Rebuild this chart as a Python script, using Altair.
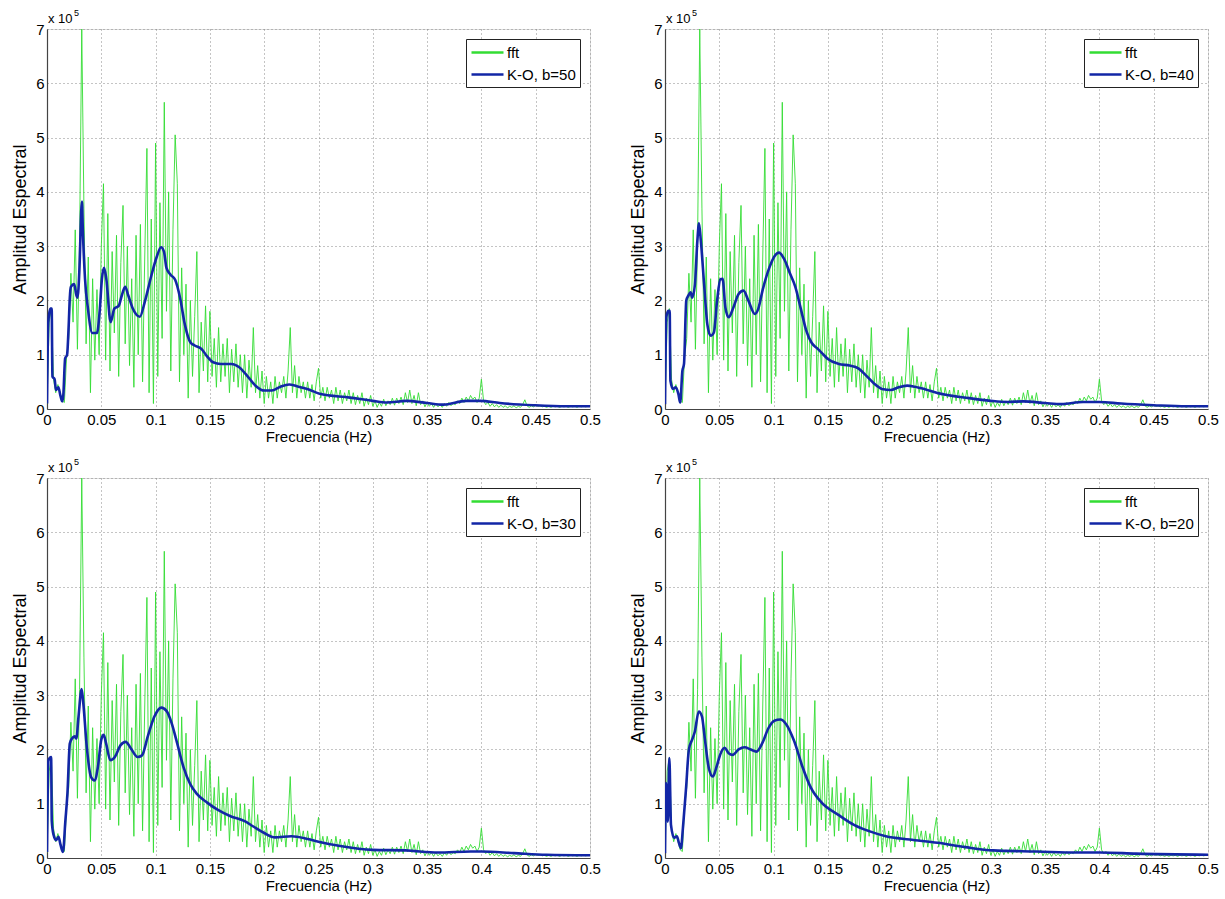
import altair as alt
import pandas as pd

# ---------------- data (amplitudes in units of 1e5) ----------------
FFT_STEP = 0.002
fft_amp = [
    0.1, 1.6, 1.85, 0.55, 0.3, 0.45, 0.3, 0.15, 0.12, 0.95,
    1.3, 2.5, 1.6, 3.3, 1.1, 3.1, 7.0, 3.7, 1.2, 2.8,
    0.3, 2.4, 0.9, 2.2, 1.0, 3.0, 4.15, 0.9, 3.6, 0.7,
    2.9, 1.4, 3.2, 0.6, 2.7, 3.75, 1.2, 3.0, 0.8, 2.4,
    0.4, 3.2, 1.0, 3.4, 0.5, 2.8, 4.8, 0.3, 3.5, 0.1,
    4.9, 0.6, 3.8, 1.3, 5.65, 1.8, 4.0, 0.7, 3.3, 5.05,
    4.15, 0.5, 2.6, 1.0, 2.3, 0.2, 2.0, 0.6, 1.7, 2.9,
    0.3, 1.6, 0.7, 1.9, 0.5, 1.8, 0.6, 1.3, 0.4, 1.5,
    0.5, 1.2, 0.6, 1.3, 0.3, 1.1, 0.5, 1.2, 0.4, 1.0,
    0.3, 1.0, 0.2, 0.9, 0.4, 1.5, 0.3, 0.8, 0.2, 0.7,
    0.1, 0.6, 0.2, 0.5, 0.1, 0.6, 0.2, 0.5, 0.3, 0.6,
    0.2, 0.7, 1.5, 0.3, 0.8, 0.2, 0.6, 0.3, 0.5, 0.2,
    0.5, 0.2, 0.45, 0.15, 0.5, 0.75, 0.2, 0.4, 0.15, 0.4,
    0.2, 0.35, 0.1, 0.4, 0.15, 0.35, 0.1, 0.3, 0.15, 0.35,
    0.1, 0.3, 0.08, 0.25, 0.1, 0.3, 0.05, 0.2, 0.08, 0.25,
    0.05, 0.15, 0.03, 0.12, 0.05, 0.18, 0.06, 0.15, 0.08, 0.2,
    0.07, 0.2, 0.1, 0.22, 0.08, 0.3, 0.12, 0.35, 0.1, 0.25,
    0.06, 0.3, 0.08, 0.15, 0.04, 0.12, 0.05, 0.1, 0.03, 0.1,
    0.04, 0.08, 0.03, 0.1, 0.05, 0.12, 0.06, 0.1, 0.08, 0.15,
    0.1, 0.2, 0.12, 0.22, 0.15, 0.25, 0.18, 0.22, 0.12, 0.2,
    0.55, 0.15, 0.08, 0.12, 0.05, 0.1, 0.04, 0.08, 0.03, 0.07,
    0.03, 0.06, 0.02, 0.05, 0.03, 0.06, 0.02, 0.05, 0.03, 0.08,
    0.17, 0.06, 0.03, 0.06, 0.04, 0.07, 0.05, 0.06, 0.04, 0.05,
    0.03, 0.05, 0.03, 0.05, 0.04, 0.05, 0.03, 0.05, 0.04, 0.05,
    0.03, 0.05, 0.04, 0.05, 0.03, 0.05, 0.04, 0.05, 0.04, 0.05,
    0.05,
]
fft_freq = [round(i * FFT_STEP, 4) for i in range(len(fft_amp))]

ko50_f = [0.0, 0.0012, 0.003, 0.0043, 0.005, 0.007, 0.0083, 0.0105, 0.0123, 0.014,
          0.015, 0.0167, 0.0185, 0.02, 0.021, 0.022, 0.025, 0.027, 0.028, 0.03,
          0.0315, 0.0322, 0.033, 0.035, 0.0377, 0.0417, 0.046, 0.0485, 0.0506, 0.0525,
          0.0546, 0.0586, 0.062, 0.066, 0.069, 0.072, 0.0747, 0.079, 0.0855, 0.09,
          0.096, 0.101, 0.105, 0.1077, 0.11, 0.114, 0.118, 0.1225, 0.127, 0.132,
          0.136, 0.1426, 0.147, 0.153, 0.16, 0.17, 0.177, 0.184, 0.192, 0.2,
          0.207, 0.215, 0.223, 0.23, 0.241, 0.251, 0.279, 0.3, 0.313, 0.331,
          0.35, 0.365, 0.386, 0.399, 0.417, 0.448, 0.478, 0.5]
ko50_a = [0.1, 1.6, 1.85, 1.85, 0.6, 0.55, 0.35, 0.4, 0.25, 0.14,
          0.25, 0.93, 1.0, 1.55, 2.05, 2.25, 2.3, 2.1, 2.05, 2.65,
          3.65, 3.82, 3.3, 2.4, 1.85, 1.4, 1.4, 1.8, 2.4, 2.6,
          2.4, 1.6, 1.85, 1.9, 2.1, 2.25, 2.1, 1.85, 1.7, 1.97,
          2.45, 2.8, 2.98, 2.9, 2.6, 2.47, 2.38, 2.05, 1.55, 1.23,
          1.17, 1.1, 0.98, 0.86, 0.83, 0.83, 0.77, 0.62, 0.43, 0.34,
          0.34, 0.41, 0.45, 0.42, 0.36, 0.28, 0.21, 0.15, 0.12, 0.15,
          0.11, 0.08, 0.15, 0.15, 0.11, 0.07, 0.05, 0.05]

ko40_f = [0.0, 0.0012, 0.003, 0.0043, 0.005, 0.0074, 0.0098, 0.0123, 0.014, 0.016,
          0.0175, 0.0196, 0.0215, 0.0236, 0.025, 0.0276, 0.0298, 0.0313, 0.033, 0.036,
          0.039, 0.042, 0.045, 0.048, 0.051, 0.053, 0.0556, 0.0586, 0.063, 0.0678,
          0.0723, 0.0767, 0.0828, 0.0858, 0.09, 0.096, 0.101, 0.105, 0.11, 0.115,
          0.12, 0.125, 0.13, 0.135, 0.14, 0.145, 0.15, 0.16, 0.17, 0.178,
          0.185, 0.192, 0.2, 0.208, 0.215, 0.223, 0.23, 0.24, 0.25, 0.28,
          0.3, 0.315, 0.33, 0.35, 0.365, 0.385, 0.4, 0.42, 0.45, 0.48, 0.5]
ko40_a = [0.09, 1.69, 1.81, 1.81, 0.52, 0.37, 0.4, 0.28, 0.12, 0.7,
          0.83, 2.0, 2.09, 2.15, 2.05, 2.3, 3.1, 3.42, 3.1, 2.3,
          1.56, 1.35, 1.41, 2.0, 2.39, 2.4, 1.87, 1.69, 1.87, 2.12,
          2.18, 2.0, 1.75, 1.84, 2.2, 2.6, 2.82, 2.88, 2.75, 2.5,
          2.25, 1.85, 1.45, 1.22, 1.12, 1.02, 0.92, 0.83, 0.8, 0.75,
          0.62, 0.48, 0.37, 0.35, 0.4, 0.43, 0.41, 0.36, 0.3, 0.2,
          0.15, 0.13, 0.14, 0.11, 0.09, 0.13, 0.13, 0.1, 0.07, 0.05, 0.05]

ko30_f = [0.0, 0.0013, 0.0038, 0.0044, 0.006, 0.0084, 0.0106, 0.0125, 0.0147, 0.0169,
          0.0188, 0.021, 0.023, 0.0256, 0.027, 0.029, 0.0319, 0.0334, 0.0366, 0.0406,
          0.0438, 0.0469, 0.05, 0.0522, 0.0544, 0.0584, 0.0625, 0.0678, 0.0725, 0.0772,
          0.0834, 0.0875, 0.0928, 0.099, 0.1053, 0.11, 0.1147, 0.119, 0.1256, 0.1319,
          0.138, 0.1475, 0.157, 0.169, 0.182, 0.19, 0.2, 0.21, 0.225, 0.24,
          0.25, 0.27, 0.3, 0.33, 0.36, 0.39, 0.4, 0.43, 0.46, 0.5]
ko30_a = [0.11, 1.8, 1.86, 0.68, 0.43, 0.33, 0.39, 0.24, 0.11, 0.68,
          1.18, 2.11, 2.2, 2.24, 2.2, 2.6, 3.11, 2.86, 2.05, 1.49,
          1.43, 1.68, 2.18, 2.27, 2.11, 1.8, 1.86, 2.08, 2.14, 2.02,
          1.86, 1.89, 2.24, 2.61, 2.77, 2.71, 2.49, 2.18, 1.68, 1.36,
          1.18, 1.02, 0.89, 0.77, 0.68, 0.58, 0.46, 0.38, 0.4, 0.35,
          0.3, 0.22, 0.15, 0.14, 0.1, 0.12, 0.12, 0.09, 0.06, 0.05]

ko20_f = [0.0, 0.001, 0.0026, 0.004, 0.0055, 0.0084, 0.011, 0.0128, 0.0147, 0.0165,
          0.0194, 0.022, 0.025, 0.0275, 0.0311, 0.034, 0.0366, 0.0403, 0.044, 0.0476,
          0.0513, 0.055, 0.0586, 0.0623, 0.0678, 0.0733, 0.0788, 0.0842, 0.0897, 0.0952,
          0.1007, 0.1062, 0.1117, 0.119, 0.1264, 0.1337, 0.1447, 0.1593, 0.174, 0.1886,
          0.2033, 0.2253, 0.2509, 0.2766, 0.3022, 0.3425, 0.379, 0.401, 0.434, 0.5]
ko20_a = [0.09, 1.38, 0.67, 1.84, 0.61, 0.37, 0.4, 0.28, 0.18, 0.55,
          1.29, 2.0, 2.18, 2.33, 2.7, 2.61, 2.21, 1.66, 1.5, 1.69,
          1.93, 2.03, 1.93, 1.9, 2.0, 2.04, 2.0, 1.96, 2.12, 2.39,
          2.53, 2.55, 2.46, 2.15, 1.69, 1.32, 1.01, 0.8, 0.61, 0.49,
          0.4, 0.34, 0.28, 0.2, 0.14, 0.12, 0.1, 0.1, 0.08, 0.06]

panels = [
    ("K-O, b=50", ko50_f, ko50_a),
    ("K-O, b=40", ko40_f, ko40_a),
    ("K-O, b=30", ko30_f, ko30_a),
    ("K-O, b=20", ko20_f, ko20_a),
]

x_ticks = [0, 0.05, 0.1, 0.15, 0.2, 0.25, 0.3, 0.35, 0.4, 0.45, 0.5]
y_ticks = [0, 1, 2, 3, 4, 5, 6, 7]

GREEN = "#33dd33"
BLUE = "#1226a6"
FONT = "Liberation Sans"
W, H = 543, 380


def make_panel(label, kf, ka):
    fft_df = pd.DataFrame({"f": fft_freq, "a": fft_amp, "serie": "fft"})
    ko_df = pd.DataFrame({"f": kf, "a": ka, "serie": label})

    color = alt.Color(
        "serie:N",
        scale=alt.Scale(domain=["fft", label], range=[GREEN, BLUE]),
        legend=alt.Legend(
            title=None, orient="top-right", offset=10,
            fillColor="white", strokeColor="#222222", padding=4,
            labelFont=FONT, labelFontSize=15, labelColor="black",
            symbolType="M-2,0L2,0", symbolStrokeWidth=2.5, symbolSize=256,
            labelOffset=10, rowPadding=4, symbolOffset=8,
        ),
    )
    x = alt.X(
        "f:Q",
        scale=alt.Scale(domain=[0, 0.5], nice=False, zero=False),
        axis=alt.Axis(
            values=x_ticks, format="~g", title="Frecuencia (Hz)",
            labelFont=FONT, labelFontSize=15, labelColor="black",
            titleFont=FONT, titleFontSize=15, titleFontWeight="normal",
            titleColor="black", titlePadding=2, labelPadding=3,
            ticks=False, domainColor="#444444", domainWidth=1.2,
            grid=True, gridDash=[1, 3], gridColor="#888888", gridWidth=1,
            labelFlush=False,
        ),
    )
    y = alt.Y(
        "a:Q",
        scale=alt.Scale(domain=[0, 7], nice=False),
        axis=alt.Axis(
            values=y_ticks, format="d", title="Amplitud Espectral",
            labelFont=FONT, labelFontSize=15, labelColor="black",
            titleFont=FONT, titleFontSize=18, titleFontWeight="normal",
            titleColor="black", titlePadding=6, labelPadding=3,
            ticks=False, domainColor="#444444", domainWidth=1.2,
            grid=True, gridDash=[1, 3], gridColor="#888888", gridWidth=1,
            labelFlush=False,
        ),
    )

    fft_line = alt.Chart(fft_df).mark_line(strokeWidth=0.9, clip=True).encode(
        x=x, y=y, color=color
    )
    ko_line = alt.Chart(ko_df).mark_line(
        strokeWidth=2.6, interpolate="monotone", clip=True
    ).encode(x=x, y=y, color=color)

    exp_base = alt.Chart(pd.DataFrame({"t": ["x 10"]})).mark_text(
        align="left", baseline="alphabetic", font=FONT, fontSize=13, color="black"
    ).encode(x=alt.value(1), y=alt.value(-6), text="t:N")
    exp_sup = alt.Chart(pd.DataFrame({"t": ["5"]})).mark_text(
        align="left", baseline="alphabetic", font=FONT, fontSize=9, color="black"
    ).encode(x=alt.value(27), y=alt.value(-13), text="t:N")

    return alt.layer(fft_line, ko_line, exp_base, exp_sup).properties(width=W, height=H)


charts = [make_panel(*p) for p in panels]
row1 = alt.hconcat(charts[0], charts[1], spacing=28).resolve_scale(
    color="independent").resolve_legend(color="independent")
row2 = alt.hconcat(charts[2], charts[3], spacing=28).resolve_scale(
    color="independent").resolve_legend(color="independent")
chart = (
    alt.vconcat(row1, row2, spacing=12)
    .resolve_scale(color="independent")
    .resolve_legend(color="independent")
    .properties(padding={"left": 11, "top": 8, "right": 5, "bottom": 5})
    .configure_view(stroke=None)
    .configure(background="white")
)

chart.save("out.html", embed_options={"renderer": "svg", "actions": False})
